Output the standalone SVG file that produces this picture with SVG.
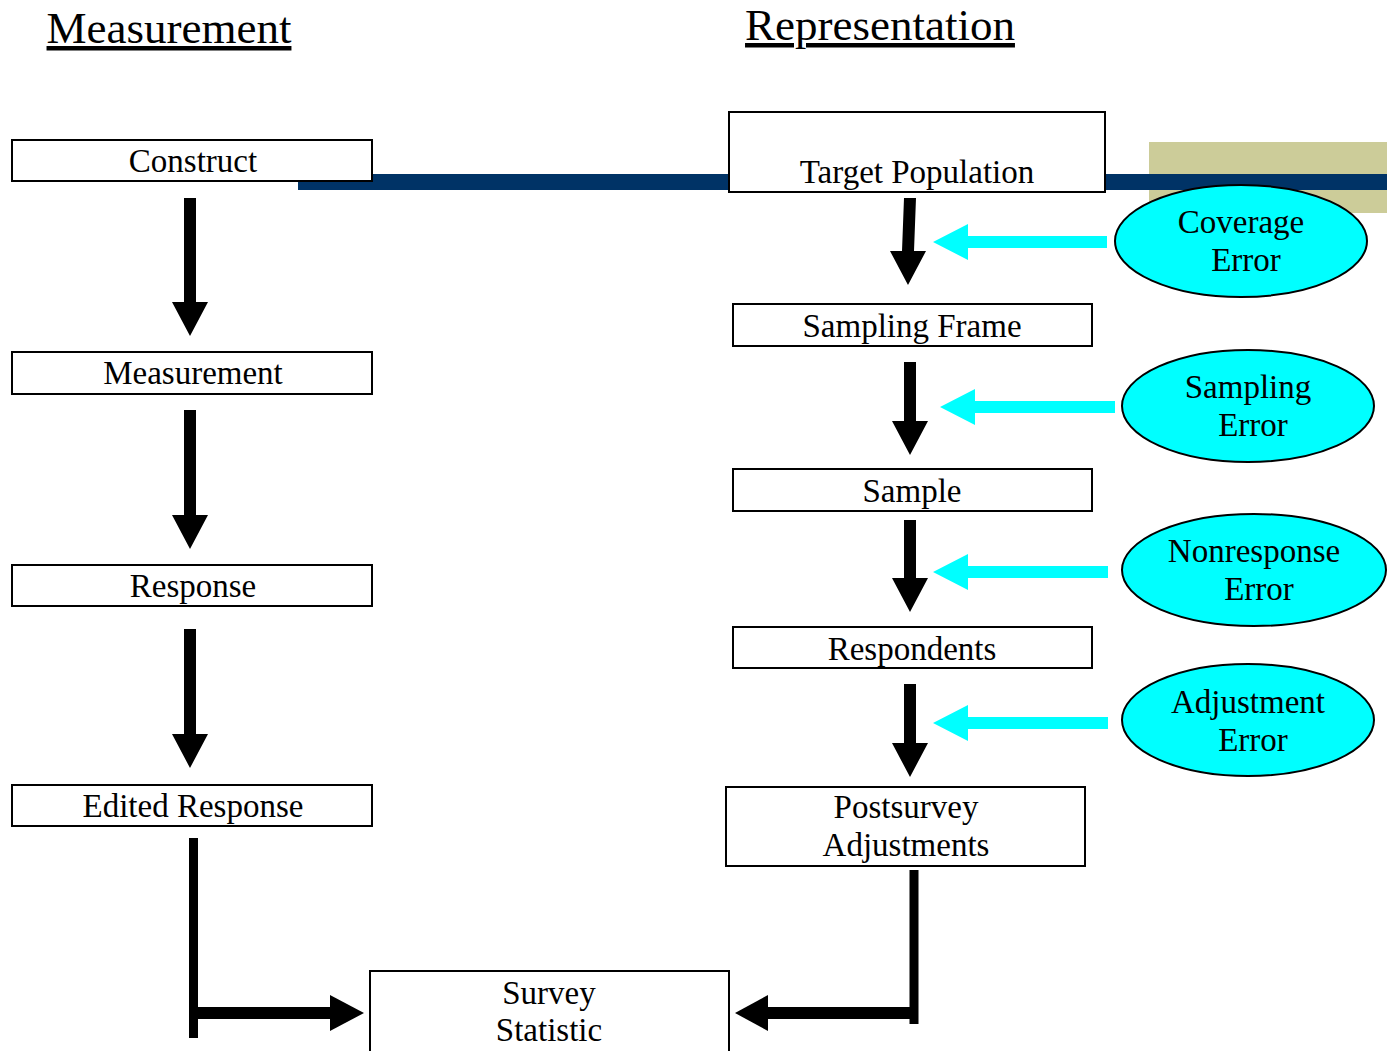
<svg xmlns="http://www.w3.org/2000/svg" width="1387" height="1051" viewBox="0 0 1387 1051">
<style>
text{font-family:"Liberation Serif","Times New Roman",serif;fill:#000;text-anchor:middle}
.t{font-size:33px}
.h{font-size:45px;text-decoration:underline}
.box{fill:#fff;stroke:#000;stroke-width:2}
.err{fill:#00FFFF;stroke:#000;stroke-width:2}
.blk{fill:#000}
.cy{fill:#00FFFF}
.ln{stroke:#000;fill:none}
</style>
<rect width="1387" height="1051" fill="#fff"/>
<g id="background">
<rect x="1149" y="142" width="238" height="71" fill="#CCCC99"/>
<rect x="298" y="174" width="1089" height="16" fill="#003366"/>
</g>
<g id="titles">
<text class="h" x="169" y="43">Measurement</text>
<text class="h" x="880" y="40">Representation</text>
</g>
<g id="connectors">
<polygon class="blk" points="184,198 196,198 196,302 208,302 190,336 172,302 184,302"/>
<polygon class="blk" points="184,410 196,410 196,515 208,515 190,549 172,515 184,515"/>
<polygon class="blk" points="184,629 196,629 196,734 208,734 190,768 172,734 184,734"/>
<polygon class="blk" points="904,198 916,198 914,251 926,251 908,285 890,251 902,251"/>
<polygon class="blk" points="904,362 916,362 916,421 928,421 910,455 892,421 904,421"/>
<polygon class="blk" points="904,520 916,520 916,578 928,578 910,612 892,578 904,578"/>
<polygon class="blk" points="904,684 916,684 916,743 928,743 910,777 892,743 904,743"/>
<polygon class="cy" points="1107,236 968,236 968,224 933,242 968,260 968,248 1107,248"/>
<polygon class="cy" points="1115,401 975,401 975,389 940,407 975,425 975,413 1115,413"/>
<polygon class="cy" points="1108,566 968,566 968,554 933,572 968,590 968,578 1108,578"/>
<polygon class="cy" points="1108,717 968,717 968,705 933,723 968,741 968,729 1108,729"/>
<path class="ln" stroke-width="9" d="M193.5,838 V1038"/>
<path class="ln" stroke-width="12" d="M198,1013 H332"/>
<polygon class="blk" points="330,995 364,1013 330,1031"/>
<path class="ln" stroke-width="9" d="M914,870 V1024"/>
<path class="ln" stroke-width="12" d="M918,1013 H766"/>
<polygon class="blk" points="768,995 735,1013 768,1031"/>
</g>
<g id="construct"><rect class="box" x="12" y="140" width="360" height="41"/><text class="t" x="193" y="172">Construct</text></g>
<g id="measurement"><rect class="box" x="12" y="352" width="360" height="42"/><text class="t" x="193" y="384">Measurement</text></g>
<g id="response"><rect class="box" x="12" y="565" width="360" height="41"/><text class="t" x="193" y="597">Response</text></g>
<g id="edited-response"><rect class="box" x="12" y="785" width="360" height="41"/><text class="t" x="193" y="817">Edited Response</text></g>
<g id="target-population"><rect class="box" x="729" y="112" width="376" height="80"/><text class="t" x="917" y="183">Target Population</text></g>
<g id="sampling-frame"><rect class="box" x="733" y="304" width="359" height="42"/><text class="t" x="912" y="337">Sampling Frame</text></g>
<g id="sample"><rect class="box" x="733" y="469" width="359" height="42"/><text class="t" x="912" y="502">Sample</text></g>
<g id="respondents"><rect class="box" x="733" y="627" width="359" height="41"/><text class="t" x="912" y="660">Respondents</text></g>
<g id="postsurvey-adjustments"><rect class="box" x="726" y="787" width="359" height="79"/><text class="t" x="906" y="818">Postsurvey</text><text class="t" x="906" y="856">Adjustments</text></g>
<g id="survey-statistic"><rect class="box" x="370" y="971" width="359" height="82"/><text class="t" x="549" y="1004">Survey</text><text class="t" x="549" y="1041">Statistic</text></g>
<g id="coverage-error"><ellipse class="err" cx="1241" cy="241" rx="126" ry="56"/><text class="t" x="1241" y="233">Coverage</text><text class="t" x="1246" y="271">Error</text></g>
<g id="sampling-error"><ellipse class="err" cx="1248" cy="406" rx="126" ry="56"/><text class="t" x="1248" y="398">Sampling</text><text class="t" x="1253" y="436">Error</text></g>
<g id="nonresponse-error"><ellipse class="err" cx="1254" cy="570" rx="132" ry="56"/><text class="t" x="1254" y="562">Nonresponse</text><text class="t" x="1259" y="600">Error</text></g>
<g id="adjustment-error"><ellipse class="err" cx="1248" cy="720" rx="126" ry="56"/><text class="t" x="1248" y="713">Adjustment</text><text class="t" x="1253" y="751">Error</text></g>
</svg>
